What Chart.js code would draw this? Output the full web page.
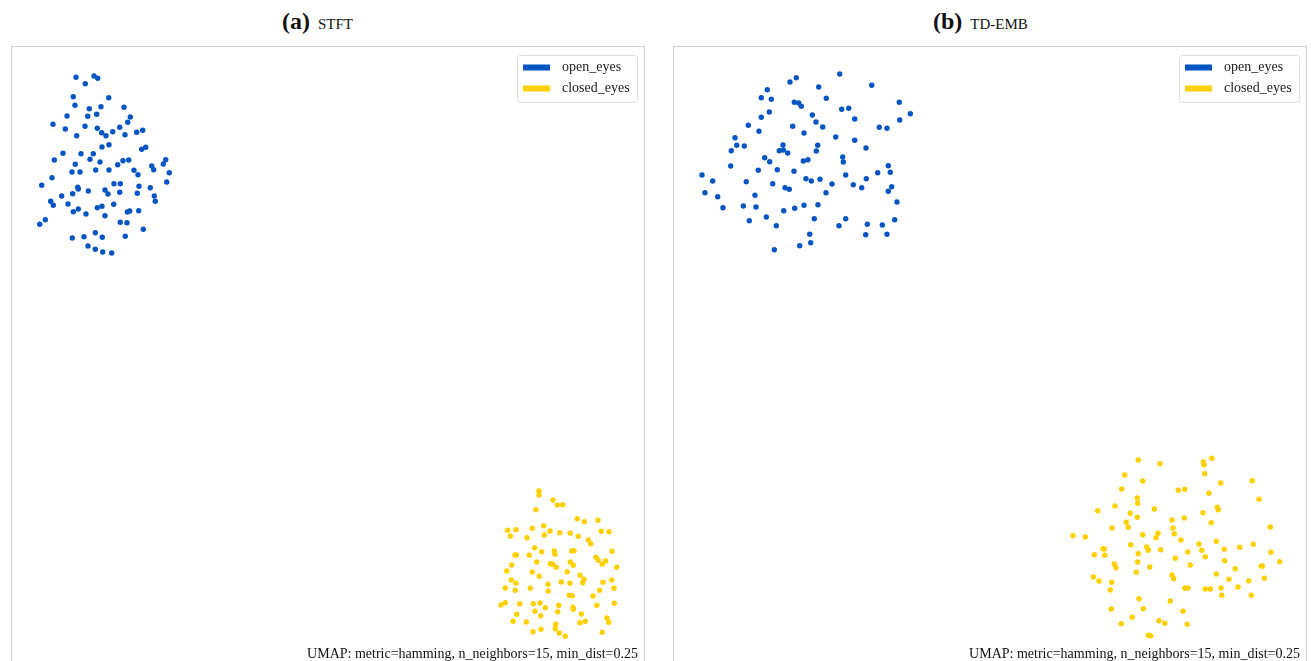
<!DOCTYPE html>
<html>
<head>
<meta charset="utf-8">
<script src="https://cdn.jsdelivr.net/npm/chart.js@4/dist/chart.umd.min.js"></script>
<style>
  html, body { margin: 0; padding: 0; background: #fff; overflow: hidden; }
  body { width: 1311px; height: 661px; position: relative; font-family: "Liberation Serif", "Times New Roman", serif; }
  .panel { position: absolute; top: 46px; width: 634px; height: 630px; }
  .panel canvas { display: block; }
  .titulo { position: absolute; top: 8px; display: flex; align-items: baseline; white-space: nowrap; color: #111; }
  .titulo b { font-size: 24px; font-weight: bold; margin-right: 8px; }
  .titulo span { font-size: 15px; }
</style>
</head>
<body>
<div class="titulo" style="left:282px"><b>(a)</b><span>STFT</span></div>
<div class="titulo" style="left:933px"><b>(b)</b><span>TD-EMB</span></div>
<div class="panel" style="left:11px"><canvas id="chartA" width="634" height="630"></canvas></div>
<div class="panel" style="left:673px"><canvas id="chartB" width="634" height="630"></canvas></div>
<script>
// Embedding coordinates for each run (x, y; y grows downward on screen)
const etiquetas = ['open_eyes', 'closed_eyes'];
const colores = ['#0455c2', '#ffd000'];
const nota = 'UMAP: metric=hamming, n_neighbors=15, min_dist=0.25';

const abiertosA = [
  [76.0,77.3],[94.0,76.0],[97.7,78.3],[85.3,83.7],[73.3,96.7],[108.7,97.7],[75.0,105.3],[89.3,108.7],
  [101.0,106.7],[124.0,107.3],[67.0,116.0],[87.7,116.3],[96.7,114.3],[130.3,117.0],[53.0,124.3],[85.0,126.3],
  [127.7,122.3],[65.3,129.0],[97.3,128.3],[101.7,132.7],[106.0,135.7],[112.7,131.7],[119.7,127.3],[125.0,134.7],
  [136.7,132.3],[142.7,130.3],[76.7,135.7],[102.0,147.0],[109.0,144.7],[141.7,149.3],[145.7,147.3],[63.0,153.3],
  [81.0,153.7],[93.3,153.7],[54.3,160.0],[90.0,159.3],[100.0,162.0],[123.0,160.7],[128.7,160.0],[75.3,164.3],
  [117.7,164.7],[72.0,172.0],[80.0,172.0],[95.7,170.0],[109.0,170.0],[134.0,170.3],[138.0,174.7],[151.7,166.0],
  [153.7,169.7],[163.3,164.0],[165.7,159.7],[169.3,172.7],[52.0,177.7],[41.7,185.3],[77.7,187.3],[78.3,189.0],
  [88.3,191.0],[114.0,183.7],[120.3,183.7],[105.0,190.0],[108.0,194.0],[119.7,192.3],[139.0,186.3],[137.3,193.3],
  [150.3,187.7],[166.7,182.0],[61.7,196.0],[72.7,193.7],[154.3,196.0],[155.3,201.3],[50.7,201.3],[53.3,205.3],
  [68.0,204.0],[73.3,211.7],[78.3,209.0],[86.0,214.0],[97.3,207.7],[102.0,206.3],[113.7,204.3],[127.3,212.0],
  [129.7,211.0],[138.7,210.7],[105.0,215.7],[45.3,219.7],[39.7,224.3],[120.3,222.3],[127.0,222.7],[143.3,229.3],
  [72.3,238.0],[84.0,236.7],[95.3,232.7],[102.3,237.3],[125.3,236.3],[88.0,246.0],[95.3,249.3],[102.7,252.0],
  [111.7,253.0]
];
const cerradosA = [
  [539.0,491.0],[539.0,495.0],[553.0,500.0],[557.3,505.0],[562.7,504.7],[536.0,509.7],[577.3,518.7],[584.3,521.7],
  [598.0,520.3],[507.7,530.3],[516.0,529.7],[532.3,528.3],[543.7,525.7],[544.3,535.0],[550.0,531.0],[559.7,532.7],
  [570.3,533.3],[578.3,536.3],[601.3,531.3],[609.0,531.7],[510.3,536.0],[527.0,537.7],[588.3,540.0],[590.7,543.7],
  [534.7,547.7],[541.7,551.7],[554.3,551.0],[555.0,554.3],[571.7,551.0],[574.0,550.7],[612.0,551.3],[515.0,555.0],
  [516.3,555.0],[529.3,555.3],[596.0,557.3],[598.3,560.3],[605.7,561.0],[602.3,564.0],[511.7,565.0],[536.7,562.0],
  [550.3,563.7],[552.7,564.3],[556.3,567.3],[570.3,562.0],[573.3,565.3],[616.7,567.3],[506.7,571.0],[532.3,572.0],
  [567.3,571.7],[580.0,575.3],[539.3,576.3],[584.0,579.3],[582.7,582.7],[511.3,580.0],[516.0,583.3],[548.0,584.3],
  [561.3,582.0],[570.0,583.3],[603.0,582.3],[611.7,580.0],[505.3,588.0],[515.3,590.3],[530.3,588.3],[548.3,591.0],
  [599.7,590.3],[614.0,588.3],[569.3,595.3],[572.3,595.7],[593.0,596.0],[501.0,605.0],[505.3,602.7],[519.7,603.7],
  [533.3,603.7],[540.0,603.0],[545.3,607.7],[558.7,605.3],[573.0,607.3],[573.3,609.3],[596.7,605.3],[614.3,603.3],
  [516.7,614.3],[535.0,611.3],[540.7,615.7],[557.7,611.7],[581.3,614.0],[513.0,621.3],[526.3,622.0],[555.7,624.3],
  [580.0,622.7],[585.3,621.3],[607.0,618.0],[608.7,622.3],[533.0,631.7],[541.0,629.3],[555.3,628.7],[559.3,633.0],
  [565.3,636.3],[602.3,632.3]
];
const abiertosB = [
  [839.7,74.0],[796.3,77.7],[790.0,82.0],[871.7,85.3],[818.7,87.0],[767.3,89.7],[761.3,97.7],[771.3,99.3],
  [826.3,98.3],[794.3,102.3],[798.7,103.0],[801.3,106.3],[899.3,102.3],[841.7,109.3],[848.7,108.3],[769.3,112.0],
  [761.3,117.3],[812.3,115.0],[910.3,113.7],[816.0,122.0],[854.7,119.0],[899.7,120.0],[748.3,125.3],[792.7,126.3],
  [822.7,127.0],[879.3,127.3],[887.0,128.3],[759.0,131.3],[804.0,133.0],[835.7,137.0],[854.7,140.3],[735.0,137.7],
  [736.7,145.3],[744.3,146.0],[731.3,150.7],[783.0,145.0],[779.3,150.7],[783.3,150.0],[787.7,153.0],[817.7,145.3],
  [816.3,151.0],[866.0,148.0],[764.7,157.7],[769.7,161.7],[803.3,161.0],[808.0,159.7],[842.7,157.0],[843.3,162.0],
  [730.7,166.0],[758.3,170.3],[777.3,169.7],[794.0,171.3],[888.3,165.7],[890.3,172.3],[877.7,172.7],[702.0,175.0],
  [712.7,181.0],[746.3,181.7],[772.7,183.7],[806.0,178.7],[811.3,181.0],[820.0,179.3],[845.7,175.0],[832.0,184.0],
  [853.3,184.7],[861.7,187.7],[866.3,178.7],[891.7,186.7],[888.3,191.3],[705.0,192.7],[717.7,196.7],[755.0,195.3],
  [785.0,187.7],[789.3,189.3],[826.0,192.7],[723.0,207.7],[743.3,206.0],[756.0,207.0],[783.7,210.7],[794.7,208.3],
  [804.0,205.3],[818.0,204.7],[897.0,202.0],[749.3,220.7],[766.3,217.0],[814.3,218.7],[845.7,218.7],[894.7,219.7],
  [776.3,225.7],[839.0,225.7],[867.3,224.3],[882.3,225.0],[809.7,234.3],[865.7,234.7],[887.0,234.3],[774.3,249.7],
  [799.7,245.7],[810.7,242.7]
];
const cerradosB = [
  [1138.3,460.0],[1160.0,463.7],[1203.3,462.0],[1204.0,464.7],[1211.7,458.3],[1124.7,475.0],[1142.7,481.0],[1204.7,473.7],
  [1220.7,483.0],[1252.3,480.7],[1121.7,489.0],[1178.3,490.3],[1184.7,489.3],[1209.0,493.3],[1137.3,498.0],[1137.7,503.3],
  [1259.0,499.3],[1097.7,510.7],[1115.0,506.0],[1130.3,513.3],[1154.3,509.0],[1203.0,512.7],[1217.3,507.3],[1218.3,509.7],
  [1126.3,522.3],[1137.3,517.3],[1172.0,520.0],[1184.3,518.0],[1211.3,522.7],[1112.0,528.0],[1128.3,527.3],[1173.0,528.0],
  [1174.3,533.7],[1270.3,527.0],[1073.0,535.7],[1085.3,537.0],[1142.7,534.7],[1156.0,537.7],[1158.0,533.3],[1181.0,540.0],
  [1130.7,544.7],[1146.7,547.0],[1148.3,550.3],[1160.7,549.7],[1199.0,544.0],[1216.3,541.3],[1224.3,549.3],[1239.7,547.3],
  [1253.3,544.3],[1103.0,548.7],[1104.3,549.0],[1094.3,554.7],[1104.7,555.3],[1138.3,553.7],[1187.7,552.0],[1201.7,550.3],
  [1205.3,556.7],[1271.0,552.3],[1137.7,562.0],[1175.3,558.3],[1224.7,560.7],[1279.7,561.7],[1114.3,564.0],[1116.0,567.7],
  [1149.7,567.0],[1190.3,565.0],[1235.3,568.7],[1261.3,566.0],[1262.3,566.0],[1136.3,572.3],[1172.0,575.0],[1173.7,578.7],
  [1216.3,574.0],[1093.3,577.0],[1099.0,581.0],[1111.7,582.3],[1229.0,579.3],[1248.7,580.7],[1264.3,578.3],[1110.3,590.0],
  [1184.7,588.3],[1188.0,588.0],[1205.3,589.0],[1210.3,589.0],[1221.0,588.0],[1238.0,587.0],[1221.7,595.3],[1251.3,595.3],
  [1139.0,598.7],[1170.3,601.0],[1111.3,609.0],[1143.3,608.7],[1183.0,611.3],[1132.3,617.3],[1121.3,623.7],[1159.0,620.7],
  [1164.7,623.3],[1187.3,624.3],[1148.3,635.3],[1150.7,635.7]
];

// axis limits of each panel, in embedding units
const rangoA = { x: [11, 645], y: [46, 676] };
const rangoB = { x: [673, 1307], y: [46, 676] };

const aPuntos = arr => arr.map(p => ({ x: p[0], y: p[1] }));

// frame, legend box and the UMAP note, drawn over the plot area
const marcoPlugin = {
    id: 'marco',
    afterDatasetsDraw(chart) {
        const ctx = chart.ctx;
        const a = chart.chartArea;
        ctx.save();

        ctx.strokeStyle = '#d2d2d2';
        ctx.lineWidth = 1.2;
        ctx.strokeRect(a.left + 0.5, a.top + 0.5, a.width - 1, a.height - 1);

        // legend
        const w = 120, h = 47;
        const lx = a.right - 8 - w, ly = a.top + 9;
        ctx.beginPath();
        ctx.roundRect(lx + 0.5, ly + 0.5, w, h, 3);
        ctx.fillStyle = 'rgba(255,255,255,0.85)';
        ctx.fill();
        ctx.strokeStyle = '#dcdcdc';
        ctx.lineWidth = 1;
        ctx.stroke();
        ctx.font = '14px "Liberation Serif", serif';
        ctx.textBaseline = 'middle';
        chart.data.datasets.forEach((ds, i) => {
            const cy = ly + 12.5 + i * 21;
            ctx.fillStyle = ds.backgroundColor;
            ctx.fillRect(lx + 6, cy - 3, 27, 6);
            ctx.fillStyle = '#222';
            ctx.fillText(ds.label, lx + 45, cy);
        });

        ctx.font = '14px "Liberation Serif", serif';
        ctx.textAlign = 'right';
        ctx.textBaseline = 'alphabetic';
        ctx.fillStyle = '#111';
        ctx.fillText(nota, a.right - 7, a.top + 612);
        ctx.restore();
    }
};

function dibujarPanel(id, abiertos, cerrados, rango) {
    const ctx = document.getElementById(id).getContext('2d');
    return new Chart(ctx, {
        type: 'scatter',
        data: {
            datasets: [
                { label: etiquetas[0], data: aPuntos(abiertos), backgroundColor: colores[0] },
                { label: etiquetas[1], data: aPuntos(cerrados), backgroundColor: colores[1] }
            ]
        },
        options: {
            responsive: false,
            animation: false,
            devicePixelRatio: 1,
            layout: { padding: 0, autoPadding: false },
            elements: { point: { radius: 2.7, borderWidth: 0, hoverRadius: 2.7 } },
            plugins: { legend: { display: false }, tooltip: { enabled: false } },
            scales: {
                x: { type: 'linear', min: rango.x[0], max: rango.x[1], display: false },
                y: { type: 'linear', min: rango.y[0], max: rango.y[1], reverse: true, display: false }
            }
        },
        plugins: [marcoPlugin]
    });
}

dibujarPanel('chartA', abiertosA, cerradosA, rangoA);
dibujarPanel('chartB', abiertosB, cerradosB, rangoB);
</script>
</body>
</html>
